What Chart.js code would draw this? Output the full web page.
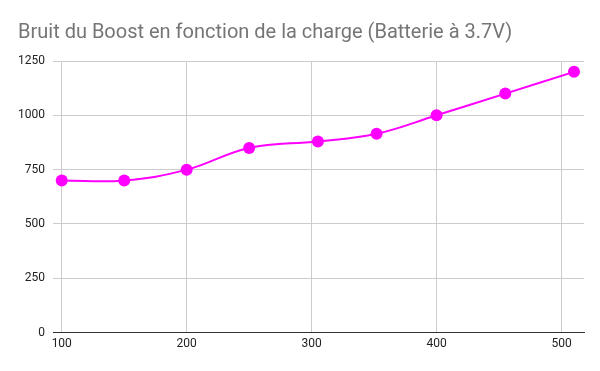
<!DOCTYPE html>
<html lang="fr">
<head>
    <meta charset="UTF-8">
    <title>Bruit du Boost</title>
    <script src="https://cdn.jsdelivr.net/npm/chart.js"></script>
    <style>
        body {
            margin: 0;
            background: #fff;
        }
        .wrap {
            width: 600px;
            height: 371px;
        }
    </style>
</head>
<body>

<div class="wrap">
    <canvas id="boostChart"></canvas>
</div>

<script>
// Données
const charge = [100, 150, 200, 250, 305, 352, 400, 455, 510];
const bruit = [700, 700, 750, 850, 880, 915, 1000, 1100, 1200];
const xTicks = [100, 200, 300, 400, 500];
const yTicks = [0, 250, 500, 750, 1000, 1250];

const ctx = document.getElementById('boostChart').getContext('2d');

new Chart(ctx, {
    type: 'line',
    data: {
        datasets: [{
            label: 'Bruit',
            data: charge.map((c, i) => ({ x: c, y: bruit[i] })),
            borderColor: '#ff00ff',
            backgroundColor: '#ff00ff',
            borderWidth: 2,
            pointRadius: 6,
            pointHoverRadius: 6,
            pointBackgroundColor: '#ff00ff',
            pointBorderWidth: 0,
            tension: 0.4
        }]
    },
    options: {
        responsive: true,
        maintainAspectRatio: false,
        animation: false,
        layout: {
            padding: { left: 18, right: 16, top: 1, bottom: 16 }
        },
        plugins: {
            legend: { display: false },
            tooltip: { enabled: false },
            title: {
                display: true,
                text: 'Bruit du Boost en fonction de la charge (Batterie à 3.7V)',
                align: 'start',
                color: '#757575',
                font: { family: 'Roboto, Arial, sans-serif', size: 20, weight: 'normal' },
                padding: { top: 20, bottom: 16 }
            }
        },
        scales: {
            x: {
                type: 'linear',
                min: 93,
                max: 518,
                afterBuildTicks: axis => { axis.ticks = xTicks.map(v => ({ value: v })); },
                ticks: {
                    color: '#222',
                    font: { family: 'Roboto, Arial, sans-serif', size: 12 },
                    padding: 4,
                    callback: v => String(v)
                },
                grid: { color: '#cccccc', drawTicks: false },
                border: { color: '#333333', width: 1 }
            },
            y: {
                min: 0,
                max: 1250,
                afterBuildTicks: axis => { axis.ticks = yTicks.map(v => ({ value: v })); },
                afterFit: axis => { axis.width = 35; },
                ticks: {
                    color: '#222',
                    font: { family: 'Roboto, Arial, sans-serif', size: 12 },
                    padding: 8,
                    callback: v => String(v)
                },
                grid: { color: '#cccccc', drawTicks: false },
                border: { display: false }
            }
        }
    }
});
</script>

</body>
</html>
